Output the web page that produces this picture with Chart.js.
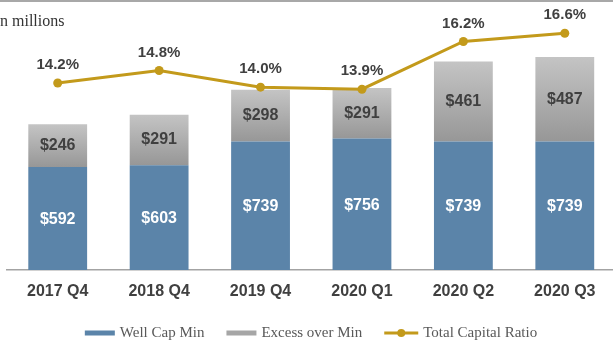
<!DOCTYPE html>
<html>
<head>
<meta charset="utf-8">
<script src="https://cdn.jsdelivr.net/npm/chart.js@4.4.1/dist/chart.umd.min.js"></script>
<style>
  html, body { margin: 0; padding: 0; background: #ffffff; overflow: hidden; }
  #wrap { width: 620px; height: 345px; }
  canvas { display: block; }
</style>
</head>
<body>
<div id="wrap"><canvas id="c" width="620" height="345" style="width:620px;height:345px"></canvas></div>
<script>
// Quarter labels along the x axis
const quarters = ['2017 Q4', '2018 Q4', '2019 Q4', '2020 Q1', '2020 Q2', '2020 Q3'];
// Capital amounts, $ in millions
const wellCapMin = [592, 603, 739, 756, 739, 739];
const excessOverMin = [246, 291, 298, 291, 461, 487];
// Total capital ratio, percent
const totalCapitalRatio = [14.2, 14.8, 14.0, 13.9, 16.2, 16.6];

const seriesNames = ['Well Cap Min', 'Excess over Min', 'Total Capital Ratio'];
const unitNote = 'n millions';

const BLUE = '#5b84a9';
const GOLD = '#c39a1b';
const SANS = '"Liberation Sans", Arial, sans-serif';
const SERIF = '"Liberation Serif", "Times New Roman", serif';

// Gray stack segments shade from light at the top to darker at the bottom
function excessFill(ctx) {
  const chart = ctx.chart;
  if (!chart.chartArea || ctx.dataIndex === undefined || !chart.scales.y) return '#ababab';
  const y = chart.scales.y;
  const i = ctx.dataIndex;
  const top = y.getPixelForValue(wellCapMin[i] + excessOverMin[i]);
  const bottom = y.getPixelForValue(wellCapMin[i]);
  const g = chart.ctx.createLinearGradient(0, top, 0, bottom);
  g.addColorStop(0, '#c4c4c4');
  g.addColorStop(1, '#979797');
  return g;
}

// Value labels inside the bars and above the ratio points
const valueLabels = {
  id: 'valueLabels',
  afterDatasetsDraw(chart) {
    const c = chart.ctx;
    c.save();
    c.textAlign = 'center';
    c.textBaseline = 'middle';
    c.font = 'bold 16px ' + SANS;
    chart.getDatasetMeta(0).data.forEach((bar, i) => {
      c.fillStyle = '#ffffff';
      c.fillText('$' + wellCapMin[i], bar.x, (bar.y + bar.base) / 2 + 1);
    });
    chart.getDatasetMeta(1).data.forEach((bar, i) => {
      c.fillStyle = '#404040';
      c.fillText('$' + excessOverMin[i], bar.x, (bar.y + bar.base) / 2);
    });
    c.font = 'bold 15px ' + SANS;
    chart.getDatasetMeta(2).data.forEach((pt, i) => {
      c.fillStyle = '#404040';
      c.fillText(totalCapitalRatio[i].toFixed(1) + '%', pt.x, pt.y - 18);
    });
    c.restore();
  }
};

// Frame line, unit note and the legend row
const decorations = {
  id: 'decorations',
  afterDraw(chart) {
    const c = chart.ctx;
    c.save();
    c.fillStyle = '#a8a8a8';
    c.fillRect(0, 0, chart.width, 2);

    c.fillStyle = '#333333';
    c.font = '16px ' + SERIF;
    c.textAlign = 'left';
    c.textBaseline = 'middle';
    c.fillText(unitNote, 0, 22);

    c.font = '15px ' + SERIF;
    const items = [
      { kind: 'box', color: BLUE, w: 30 },
      { kind: 'box', color: '#a6a6a6', w: 30 },
      { kind: 'line', color: GOLD, w: 34 }
    ];
    const gapText = 5, gapItem = 22;
    let total = 0;
    items.forEach((it, k) => {
      it.tw = c.measureText(seriesNames[k]).width;
      total += it.w + gapText + it.tw;
    });
    total += gapItem * (items.length - 1);
    let x = 311 - total / 2;
    const yc = 333;
    items.forEach((it, k) => {
      if (it.kind === 'box') {
        c.fillStyle = it.color;
        c.fillRect(x, yc - 2.5, it.w, 5);
      } else {
        c.strokeStyle = it.color;
        c.lineWidth = 3;
        c.beginPath();
        c.moveTo(x, yc);
        c.lineTo(x + it.w, yc);
        c.stroke();
        c.fillStyle = it.color;
        c.beginPath();
        c.arc(x + it.w / 2, yc, 4, 0, Math.PI * 2);
        c.fill();
      }
      x += it.w + gapText;
      c.fillStyle = '#595959';
      c.fillText(seriesNames[k], x, yc);
      x += it.tw + gapItem;
    });
    c.restore();
  }
};

new Chart(document.getElementById('c'), {
  data: {
    labels: quarters,
    datasets: [
      {
        type: 'bar',
        label: seriesNames[0],
        data: wellCapMin,
        backgroundColor: BLUE,
        stack: 'cap',
        yAxisID: 'y',
        order: 2,
        barPercentage: 0.58,
        categoryPercentage: 1
      },
      {
        type: 'bar',
        label: seriesNames[1],
        data: excessOverMin,
        backgroundColor: excessFill,
        stack: 'cap',
        yAxisID: 'y',
        order: 2,
        barPercentage: 0.58,
        categoryPercentage: 1
      },
      {
        type: 'line',
        label: seriesNames[2],
        data: totalCapitalRatio,
        borderColor: GOLD,
        backgroundColor: GOLD,
        borderWidth: 3,
        pointRadius: 4.5,
        pointBackgroundColor: GOLD,
        pointBorderWidth: 0,
        tension: 0,
        yAxisID: 'y2',
        order: 0
      }
    ]
  },
  options: {
    responsive: false,
    animation: false,
    devicePixelRatio: 1,
    layout: { padding: { left: 7, right: 4, top: 10, bottom: 45 } },
    plugins: {
      legend: { display: false },
      tooltip: { enabled: false },
      title: { display: false }
    },
    scales: {
      x: {
        stacked: true,
        offset: true,
        grid: { display: false, drawTicks: false },
        border: { display: true, color: '#a3a3a3', width: 1.5 },
        ticks: {
          color: '#404040',
          font: { family: SANS, size: 16, weight: 'bold' },
          padding: 12,
          maxRotation: 0,
          autoSkip: false
        },
        afterFit(scale) { scale.height = 30; }
      },
      y: {
        stacked: true,
        display: false,
        min: 0,
        max: 1496
      },
      y2: {
        display: false,
        position: 'right',
        min: 5.18,
        max: 17.72
      }
    }
  },
  plugins: [valueLabels, decorations]
});
</script>
</body>
</html>
